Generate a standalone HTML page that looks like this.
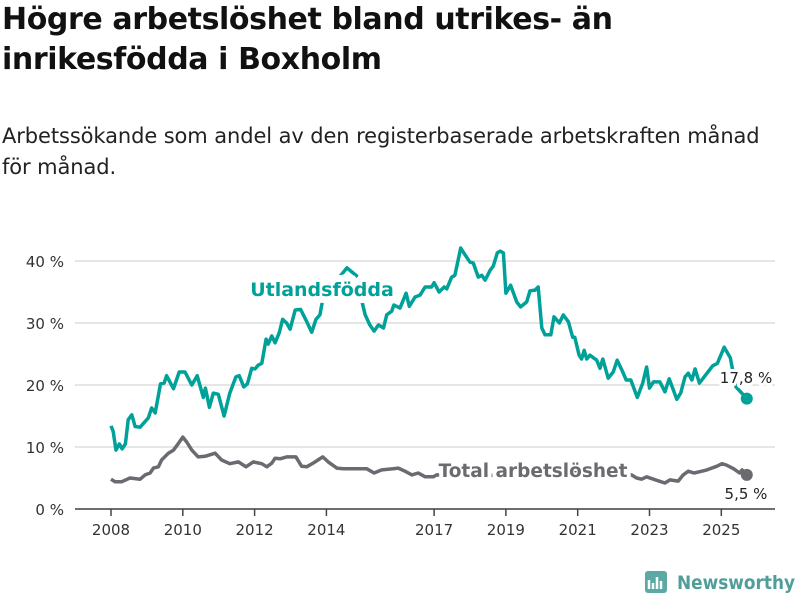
<!DOCTYPE html>
<html><head><meta charset="utf-8"><style>
body{margin:0;background:#fff;font-family:"Liberation Sans","DejaVu Sans",sans-serif;}
#wrap{position:relative;width:800px;height:600px;overflow:hidden;}
h1{position:absolute;left:2px;top:0;margin:0;font:bold 30px/40px "DejaVu Sans",sans-serif;color:#111;letter-spacing:-0.4px;width:790px}
.sub{position:absolute;left:2px;top:121px;margin:0;font:21px/31px "DejaVu Sans",sans-serif;color:#222;width:785px;letter-spacing:-0.1px}
svg{position:absolute;left:0;top:0}
</style></head><body>
<div id="wrap">
<h1>Högre arbetslöshet bland utrikes- än inrikesfödda i Boxholm</h1>
<p class="sub">Arbetssökande som andel av den registerbaserade arbetskraften månad för månad.</p>
<svg id="chart" width="800" height="600"></svg>
</div>
<script>
const foreignDates=[2008.0,2008.06,2008.14,2008.23,2008.31,2008.40,2008.48,2008.58,2008.67,2008.81,2009.04,2009.13,2009.23,2009.38,2009.48,2009.55,2009.74,2009.90,2010.06,2010.25,2010.40,2010.57,2010.63,2010.74,2010.85,2010.99,2011.15,2011.31,2011.48,2011.57,2011.70,2011.80,2011.92,2012.01,2012.10,2012.20,2012.32,2012.38,2012.48,2012.57,2012.69,2012.78,2012.89,2012.99,2013.13,2013.28,2013.43,2013.59,2013.71,2013.82,2013.91,2014.24,2014.57,2014.84,2014.98,2015.08,2015.21,2015.33,2015.45,2015.59,2015.68,2015.82,2015.88,2016.05,2016.22,2016.31,2016.47,2016.61,2016.75,2016.93,2017.00,2017.14,2017.28,2017.35,2017.49,2017.58,2017.74,2017.86,2018.00,2018.09,2018.23,2018.33,2018.42,2018.56,2018.65,2018.76,2018.84,2018.93,2019.00,2019.13,2019.30,2019.41,2019.58,2019.67,2019.81,2019.90,2020.00,2020.09,2020.25,2020.34,2020.49,2020.60,2020.74,2020.86,2020.92,2021.04,2021.11,2021.18,2021.25,2021.34,2021.53,2021.62,2021.70,2021.85,2021.99,2022.10,2022.23,2022.35,2022.48,2022.66,2022.81,2022.92,2023.00,2023.11,2023.29,2023.43,2023.55,2023.76,2023.87,2023.99,2024.08,2024.18,2024.27,2024.39,2024.55,2024.76,2024.89,2025.08,2025.25,2025.29,2025.41,2025.71];
const foreignValues=[13.4,12.5,9.5,10.5,9.7,10.5,14.4,15.2,13.3,13.2,14.7,16.3,15.5,20.2,20.3,21.5,19.4,22.1,22.1,20,21.5,18,19.5,16.4,18.7,18.5,15,18.7,21.3,21.5,19.7,20.2,22.7,22.6,23.2,23.5,27.4,26.6,27.9,26.8,28.5,30.6,30,29,32.1,32.2,30.5,28.5,30.6,31.3,34.2,36.5,38.9,37.6,33.7,31.3,29.7,28.7,29.7,29.2,31.3,31.9,32.9,32.4,34.8,32.7,34.2,34.5,35.8,35.8,36.5,35,35.8,35.5,37.4,37.7,42.1,41,39.8,39.7,37.4,37.7,36.9,38.5,39.2,41.3,41.6,41.3,34.8,36.1,33.4,32.6,33.4,35.2,35.3,35.8,29.2,28.1,28.1,31,30,31.3,30.2,27.7,27.7,24.8,24.2,25.6,24.2,24.8,24,22.7,24.2,21.1,22.1,24,22.4,20.8,20.8,18,20.3,22.9,19.5,20.5,20.5,18.9,21,17.7,18.7,21.3,21.9,20.8,22.6,20.3,21.5,23.1,23.5,26.1,24.4,23.2,19.7,17.8];
const totalDates=[2008.0,2008.11,2008.30,2008.53,2008.81,2008.95,2009.09,2009.18,2009.32,2009.41,2009.60,2009.74,2009.88,2010.0,2010.11,2010.25,2010.43,2010.62,2010.90,2011.08,2011.31,2011.55,2011.76,2011.96,2012.20,2012.34,2012.48,2012.57,2012.71,2012.89,2013.15,2013.31,2013.45,2013.63,2013.90,2014.05,2014.29,2014.47,2014.66,2014.84,2015.12,2015.33,2015.54,2015.86,2016.00,2016.19,2016.38,2016.56,2016.75,2016.98,2017.07,2017.5,2018.0,2018.5,2019.0,2019.5,2020.0,2020.5,2021.0,2021.5,2022.0,2022.3,2022.50,2022.64,2022.78,2022.92,2023.11,2023.43,2023.57,2023.80,2023.94,2024.08,2024.24,2024.46,2024.60,2024.88,2025.02,2025.14,2025.34,2025.51,2025.58,2025.71];
const totalValues=[4.8,4.4,4.4,5.0,4.8,5.5,5.8,6.6,6.8,7.9,9.0,9.5,10.6,11.6,10.8,9.5,8.4,8.5,9.0,7.9,7.3,7.6,6.8,7.6,7.3,6.8,7.4,8.2,8.1,8.4,8.4,6.9,6.8,7.4,8.4,7.6,6.6,6.5,6.5,6.5,6.5,5.8,6.3,6.5,6.6,6.1,5.5,5.8,5.2,5.2,5.5,5.4,5.2,5.4,5.6,5.3,6.0,6.2,5.8,5.4,5.4,5.3,5.5,5.0,4.8,5.2,4.8,4.2,4.7,4.5,5.5,6.1,5.8,6.1,6.3,6.9,7.3,7.1,6.5,5.8,6.3,5.5];
const yTicks=[0,10,20,30,40];
const xTicks=[2008,2010,2012,2014,2017,2019,2021,2023,2025];

const NS='http://www.w3.org/2000/svg';
const svg=document.getElementById('chart');
const X=t=>111+35.9*(t-2008);
const Y=v=>509-6.2*v;
function mk(tag,attrs,parent){const e=document.createElementNS(NS,tag);for(const k in attrs)e.setAttribute(k,attrs[k]);(parent||svg).appendChild(e);return e;}

yTicks.forEach(v=>{
  const g=mk('line',{x1:75,x2:775,y1:Y(v),y2:Y(v),stroke:'#ddd','stroke-width':1.5});
  
  
  const t=mk('text',{x:64,y:Y(v)+6,'text-anchor':'end','font-size':15,fill:'#333','font-family':'DejaVu Sans, sans-serif'});
  t.textContent=v+' %';
  
  
});
const ax=mk('line',{x1:75,x2:775,y1:509,y2:509,stroke:'#444','stroke-width':1.5});


xTicks.forEach(yr=>{
  const l=mk('line',{x1:X(yr),x2:X(yr),y1:509,y2:516,stroke:'#444','stroke-width':1.5});
  
  
  const t=mk('text',{x:X(yr),y:535,'text-anchor':'middle','font-size':15,fill:'#333','font-family':'DejaVu Sans, sans-serif'});
  t.textContent=yr;
  
  
});
function path(d,v){return d.map((t,i)=>(i?'L':'M')+X(t).toFixed(1)+','+Y(v[i]).toFixed(1)).join('');}
const tl=mk('path',{d:path(totalDates,totalValues),fill:'none',stroke:'#6b6a70','stroke-width':3.5,'stroke-linejoin':'round'});


const fl=mk('path',{d:path(foreignDates,foreignValues),fill:'none',stroke:'#00a199','stroke-width':3.5,'stroke-linejoin':'round'});


const ld=foreignDates.length-1, lt=totalDates.length-1;
const d1=mk('circle',{cx:X(foreignDates[ld]),cy:Y(foreignValues[ld]),r:6,fill:'#00a199'});


const d2=mk('circle',{cx:X(totalDates[lt]),cy:Y(totalValues[lt]),r:6,fill:'#6b6a70'});


function label(txt,x,y,size,color,weight,anchor,name,sw){
  const t=mk('text',{x:x,y:y,'font-size':size,fill:color,'font-weight':weight,'text-anchor':anchor,stroke:'#fff','stroke-width':sw,'paint-order':'stroke','stroke-linejoin':'round','font-family':'DejaVu Sans, sans-serif'});
  t.textContent=txt;
  
  
}
label('Utlandsfödda',322,296,19,'#00a199','bold','middle','foreign-born-label',14);
label('Total arbetslöshet',533,477,18.5,'#6b6a70','bold','middle','total-label',8);
label(foreignValues[ld].toFixed(1).replace('.',',')+' %',746,383,15,'#222','normal','middle','foreign-born-end-value',6);
label(totalValues[lt].toFixed(1).replace('.',',')+' %',746,499,15,'#222','normal','middle','total-end-value',6);
// logo
const lg=mk('g',{});


mk('rect',{x:645,y:571,width:22,height:22,rx:3,fill:'#5aa9a3'},lg);
mk('path',{d:'M649,589V580M653,589V583M657,589V577M661,589V581',stroke:'#fff','stroke-width':2.5},lg);
const lt2=mk('text',{x:677,y:589,'font-size':19,fill:'#4f9e98','font-weight':'bold','font-family':'DejaVu Sans, sans-serif',textLength:118,lengthAdjust:'spacingAndGlyphs'},lg);
lt2.textContent='Newsworthy';
</script>
</body></html>
